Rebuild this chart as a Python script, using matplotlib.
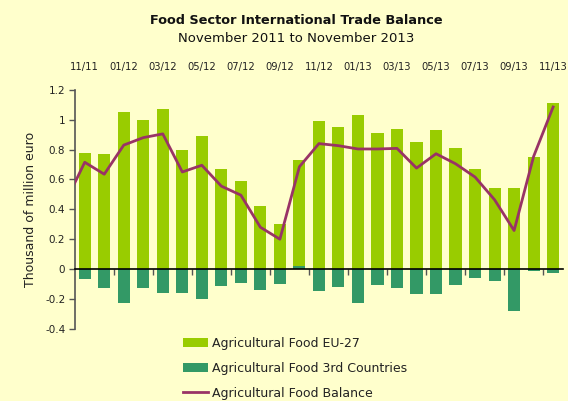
import numpy as np
import matplotlib
matplotlib.use("Agg")
import matplotlib.pyplot as plt

# monthly values, 11/11 .. 11/13 (thousand of million euro)
months = ["11/11", "12/11", "01/12", "02/12", "03/12", "04/12", "05/12", "06/12",
          "07/12", "08/12", "09/12", "10/12", "11/12", "12/12", "01/13", "02/13",
          "03/13", "04/13", "05/13", "06/13", "07/13", "08/13", "09/13", "10/13",
          "11/13"]
eu27 = [0.78, 0.77, 1.05, 1.00, 1.07, 0.80, 0.89, 0.67, 0.59, 0.42, 0.30, 0.73,
        0.99, 0.95, 1.03, 0.91, 0.94, 0.85, 0.93, 0.81, 0.67, 0.54, 0.54, 0.75,
        1.11]
third = [-0.065, -0.13, -0.23, -0.125, -0.16, -0.16, -0.20, -0.11, -0.09, -0.14,
         -0.10, 0.02, -0.15, -0.12, -0.23, -0.105, -0.13, -0.17, -0.165, -0.105,
         -0.06, -0.08, -0.28, -0.01, -0.023]
# balance line; first value is 10/11 (only its segment to the axis edge is visible)
balance_prev = 0.445
balance = [0.715, 0.635, 0.83, 0.88, 0.905, 0.65, 0.695, 0.555, 0.495, 0.28,
           0.20, 0.685, 0.84, 0.826, 0.804, 0.804, 0.808, 0.676, 0.772, 0.705,
           0.616, 0.464, 0.258, 0.754, 1.085]

bg = "#FFFFCC"
c_eu = "#99CC00"
c_3rd = "#339966"
c_bal = "#993366"

fig = plt.figure(figsize=(5.68, 4.01), dpi=100, facecolor=bg)
ax = fig.add_axes([0.132, 0.180, 0.859, 0.596], facecolor=bg)

x = np.arange(len(months))
b1 = ax.bar(x, eu27, width=0.62, color=c_eu, label="Agricultural Food EU-27", zorder=2)
b2 = ax.bar(x, third, width=0.62, color=c_3rd, label="Agricultural Food 3rd Countries", zorder=2)
ln, = ax.plot(np.r_[-1, x], [balance_prev] + balance, color=c_bal, lw=2,
              label="Agricultural Food Balance", zorder=3, clip_on=True)

ax.set_xlim(-0.5, len(months) - 0.5)
ax.set_ylim(-0.4, 1.2)
ax.set_yticks(np.arange(-0.4, 1.21, 0.2))
ax.set_yticklabels(["-0.4", "-0.2", "0", "0.2", "0.4", "0.6", "0.8", "1", "1.2"])

for s in ["top", "right"]:
    ax.spines[s].set_visible(False)
ax.spines["left"].set_color("#555555")
ax.spines["left"].set_linewidth(1.2)
ax.spines["bottom"].set_position(("data", 0))
ax.spines["bottom"].set_color("black")
ax.spines["bottom"].set_linewidth(1.2)
ax.spines["bottom"].set_zorder(4)

ax.set_xticks(x[::2])
ax.set_xticklabels(months[::2])
ax.set_xticks(np.arange(1.5, len(months) - 1, 2), minor=True)
ax.tick_params(axis="x", which="major", bottom=False, top=False,
               labelbottom=False, labeltop=True, labelsize=7.2, pad=9,
               labelcolor="#222222")
ax.tick_params(axis="x", which="minor", bottom=True, length=4, width=1,
               color="#555555", direction="out")
ax.tick_params(axis="y", length=4, width=1, color="#555555", labelsize=7.5,
               pad=3, labelcolor="#222222")

ax.set_ylabel("Thousand of million euro", fontsize=9, color="#222222", labelpad=6)

fig.text(0.521, 0.948, "Food Sector International Trade Balance", ha="center",
         va="center", fontsize=9.3, fontweight="bold", color="#111111")
fig.text(0.521, 0.903, "November 2011 to November 2013", ha="center",
         va="center", fontsize=9.5, color="#111111")

fig.legend(handles=[b1, b2, ln], loc="upper left", bbox_to_anchor=(0.322, 0.16),
           frameon=False, fontsize=9, handlelength=2.0, handletextpad=0.3,
           labelspacing=0.95, borderpad=0, borderaxespad=0, labelcolor="#222222")

fig.savefig("out.png", dpi=100, facecolor=bg)
